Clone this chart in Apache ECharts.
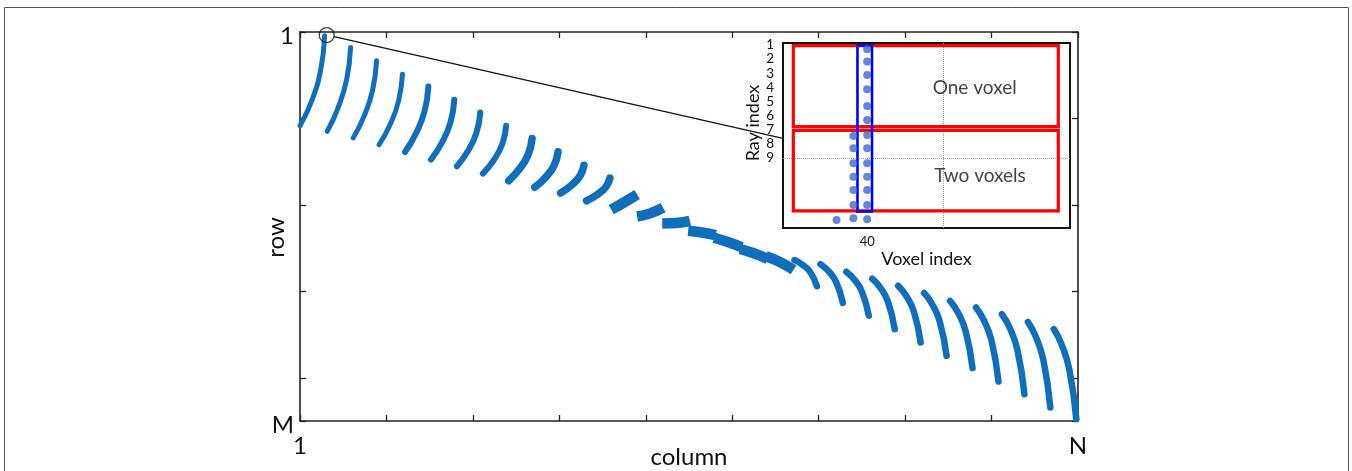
<!DOCTYPE html>
<html><head><meta charset="utf-8">
<script src="https://cdn.jsdelivr.net/npm/echarts@6/dist/echarts.min.js"></script>
<style>html,body{margin:0;padding:0;background:#fff}#c{width:1352px;height:471px}</style>
</head><body><div id="c"></div>
<script>
// ---- main sparsity pattern (column, row), row 0 at top ----
const upperArcs = [
  [[0,108.5],[14,78.4],[24,43.5],[28.5,4.4]],
  [[31.5,114.9],[44,87.7],[54,54.8],[58.5,17.9]],
  [[61.5,122.6],[74,97.6],[84,67.2],[88.5,33.3]],
  [[91.5,130.4],[104,107.6],[114,79.8],[118.5,48.8]],
  [[121.5,138.8],[134,117.6],[144,91.9],[148.5,63.1]],
  [[151.5,147.7],[164,128.3],[174,104.7],[178.5,78.4]],
  [[181.5,155.4],[194,138.0],[204,116.8],[208.5,93.1]],
  [[211.5,163.9],[224,148.4],[234,129.6],[238.5,108.5]],
  [[241.5,172.0],[254,158.3],[264,141.7],[268.5,123.2]],
  [[271.5,179.7],[284,168.2],[294,154.2],[298.5,138.6]],
  [[301.5,186.3],[314,177.3],[324,166.3],[328.5,154.1]],
  [[331.5,195.2],[344,187.9],[354,179.0],[358.5,169.1]]
];
const middleWedges = [
  [[360,205.5],[375,197.1],[390,188.0]],
  [[390,213.5],[405,209.8],[420,203.2]],
  [[419,221.5],[435,221.0],[451,218.5]],
  [[449,230.0],[465,232.0],[481,235.0]],
  [[479,238.0],[495,243.0],[511,249.0]],
  [[509,251.0],[525,256.0],[541,262.5]],
  [[539,259.5],[555,266.0],[571,275.0]]
];
const lowerArcs = [
  [[572,263.8],[581,269.0],[590,277.4],[598,294.0]],
  [[602,268.6],[611,276.2],[620,288.8],[628,313.5]],
  [[632,277.4],[641,286.1],[650,300.3],[658,328.3]],
  [[662,285.5],[671,295.4],[680,311.7],[688,343.8]],
  [[692,293.6],[701,304.8],[710,323.1],[718,359.2]],
  [[722,302.0],[731,314.3],[740,334.7],[748,374.6]],
  [[752,311.0],[761,324.2],[770,346.0],[778,388.7]],
  [[782,318.7],[791,333.3],[800,357.2],[808,404.3]],
  [[812,326.5],[821,342.2],[830,368.1],[838,419.0]],
  [[842,335.3],[851,352.1],[860,379.9],[868,434.4]],
  [[872,343.7],[881,361.4],[890,390.5],[898,447.7]]
];
const mainColumns = [0, 900];       // "1" .. "N"
const mainColumnLabels = ['1', 'N'];
const mainRows = [0, 450];          // "1" .. "M"
const mainRowLabels = ['1', 'M'];
const zoomPoint = [30.9, 3.5];

// ---- inset ----
const insetColumns = [40, 38.2, 36.0];
const insetColumnRows = [
  [1.30,2.18,3.13,4.14,5.33,6.32,7.38,8.33,9.39,10.34,11.28,12.35,13.36],
  [7.45,8.33,9.39,10.34,11.28,12.35,13.29],
  [13.41]
];
const rayTicks = [1,2,3,4,5,6,7,8,9];
const voxelTicks = [40];
const voxelBoxes = [[30.35,1.05,64.97,6.79],[30.35,7.05,64.97,12.77]];
const rayBox = [38.73,1.04,40.63,12.81];
const insetNotes = [['One voxel',54.05,4.01],['Two voxels',54.74,10.28]];
const insetGridX = 50, insetGridY = 9;
const insetAnchor = [29, 7.62];

const FONT = 'Lato';
const BLUE = '#0f6fbd';
const chart = echarts.init(document.getElementById('c'), null, {renderer:'canvas'});

const series = [];
upperArcs.forEach((seg, i) => series.push({
  type:'line', xAxisIndex:0, yAxisIndex:0, data:seg, smooth:0.5, symbol:'none', silent:true,
  lineStyle:{color:BLUE, width: i < 4 ? 5 : i < 8 ? 6 : 7.5, cap:'round'}
}));
middleWedges.forEach(seg => series.push({
  type:'line', xAxisIndex:0, yAxisIndex:0, data:seg, smooth:0.5, symbol:'none', silent:true,
  lineStyle:{color:BLUE, width:10.5, cap:'butt'}
}));
lowerArcs.forEach(seg => series.push({
  type:'line', xAxisIndex:0, yAxisIndex:0, data:seg, smooth:0.5, symbol:'none', silent:true,
  lineStyle:{color:BLUE, width:6.5, cap:'round'}
}));
series.push({
  type:'scatter', xAxisIndex:0, yAxisIndex:0, data:[zoomPoint], symbol:'circle', symbolSize:15, z:5,
  itemStyle:{color:'rgba(0,0,0,0)', borderColor:'#111', borderWidth:1.3}, silent:true
});

// inset rectangles
const boxes = [
  {b:voxelBoxes[0], color:'#ff0000', w:3.2},
  {b:voxelBoxes[1], color:'#ff0000', w:3.2},
  {b:rayBox, color:'#0000ff', w:2.6}
];
series.push({
  type:'custom', xAxisIndex:2, yAxisIndex:2, z:3, silent:true,
  data: boxes.map(o => o.b),
  renderItem: (params, api) => {
    const o = boxes[params.dataIndex];
    const a = api.coord([o.b[0], o.b[1]]), c = api.coord([o.b[2], o.b[3]]);
    return {type:'rect', shape:{x:Math.min(a[0],c[0]), y:Math.min(a[1],c[1]),
      width:Math.abs(c[0]-a[0]), height:Math.abs(c[1]-a[1])},
      style:{fill:null, stroke:o.color, lineWidth:o.w}};
  }
});

const insetDots = [];
insetColumnRows.forEach((rows, k) => rows.forEach(r => insetDots.push([insetColumns[k], r])));
series.push({
  type:'scatter', xAxisIndex:2, yAxisIndex:2, data:insetDots, symbolSize:8, z:4,
  itemStyle:{color:'#3f68c6'}, silent:true,
  markLine:{silent:true, symbol:['none','none'], label:{show:false}, z:2,
    lineStyle:{type:'dotted', color:'#9a9a9a', width:1},
    data:[{xAxis:insetGridX},{yAxis:insetGridY}]}
});
series.push({
  type:'scatter', xAxisIndex:2, yAxisIndex:2, symbolSize:1, z:5, silent:true,
  itemStyle:{color:'rgba(0,0,0,0)'},
  data: insetNotes.map(n => ({name:n[0], value:[n[1], n[2]]})),
  label:{show:true, position:'inside', formatter:'{b}', fontFamily:FONT, fontSize:19, color:'#111'}
});

const axisLine = {show:true, onZero:false, lineStyle:{color:'#222', width:1.6}};
const tick = {show:true, inside:true, length:6, lineStyle:{color:'#222', width:1.3}};
const bigLabel = {fontFamily:FONT, fontSize:24, color:'#111'};

chart.setOption({
  animation:false,
  backgroundColor:'#fff',
  grid:[
    {left:300, top:32, width:778, height:389, containLabel:false, outerBoundsMode:'none'},
    {left:783, top:43, width:287, height:185, show:true, backgroundColor:'#fff', borderColor:'#111',
     borderWidth:2, outerBoundsMode:'none'}
  ],
  xAxis:[
    {gridIndex:0, type:'value', min:0, max:900, interval:100, position:'bottom', axisLine, axisTick:tick,
     splitLine:{show:false},
     axisLabel:Object.assign({customValues:mainColumns, margin:13,
       formatter:v => mainColumnLabels[mainColumns.indexOf(v)] || ''}, bigLabel),
     name:'column', nameLocation:'middle', nameGap:24, nameMoveOverlap:false, nameTextStyle:bigLabel},
    {gridIndex:0, type:'value', min:0, max:900, interval:100, position:'top', axisLine, axisTick:tick,
     splitLine:{show:false}, axisLabel:{show:false}},
    {gridIndex:1, type:'value', min:29, max:66.5, position:'bottom', axisLine:{show:false}, axisTick:{show:false},
     splitLine:{show:false},
     axisLabel:{customValues:voxelTicks, margin:7, fontFamily:FONT, fontSize:13, color:'#111'},
     name:'Voxel index', nameLocation:'middle', nameGap:22, nameMoveOverlap:false,
     nameTextStyle:{fontFamily:FONT, fontSize:18, color:'#111'}}
  ],
  yAxis:[
    {gridIndex:0, type:'value', inverse:true, min:0, max:450, interval:100, position:'left', axisLine, axisTick:tick,
     splitLine:{show:false},
     axisLabel:Object.assign({customValues:mainRows, margin:6, verticalAlign:'top', lineHeight:8,
       formatter:v => mainRowLabels[mainRows.indexOf(v)] || ''}, bigLabel),
     name:'row', nameLocation:'middle', nameGap:12, nameMoveOverlap:false,
     nameTextStyle:Object.assign({padding:[0,22,0,0]}, bigLabel)},
    {gridIndex:0, type:'value', inverse:true, min:0, max:450, interval:100, position:'right', axisLine, axisTick:tick,
     splitLine:{show:false}, axisLabel:{show:false}},
    {gridIndex:1, type:'value', inverse:true, min:0.86, max:13.98, position:'left', axisLine:{show:false},
     axisTick:{show:false}, splitLine:{show:false},
     axisLabel:{customValues:rayTicks, margin:9, fontFamily:FONT, fontSize:13.5, color:'#111'},
     name:'Ray index', nameLocation:'middle', nameGap:21, nameMoveOverlap:false,
     nameTextStyle:{fontFamily:FONT, fontSize:18, color:'#111', padding:[0,0,0,25]}}
  ],
  series
});

// connector from the zoom circle to the inset
const p0 = chart.convertToPixel({gridIndex:0}, zoomPoint);
const p1 = chart.convertToPixel({gridIndex:1}, insetAnchor);
const dx = p1[0]-p0[0], dy = p1[1]-p0[1], len = Math.hypot(dx, dy), r = 7.5;
chart.setOption({
  graphic:[
    {type:'rect', silent:true, z:0, shape:{x:4.5, y:7.5, width:1344, height:500},
     style:{fill:'none', stroke:'#555', lineWidth:1}},
    {type:'line', silent:true, z:10,
     shape:{x1:p0[0]+dx/len*r, y1:p0[1]+dy/len*r, x2:p1[0], y2:p1[1]},
     style:{stroke:'#111', lineWidth:1.3}}
  ]
});
</script></body></html>
